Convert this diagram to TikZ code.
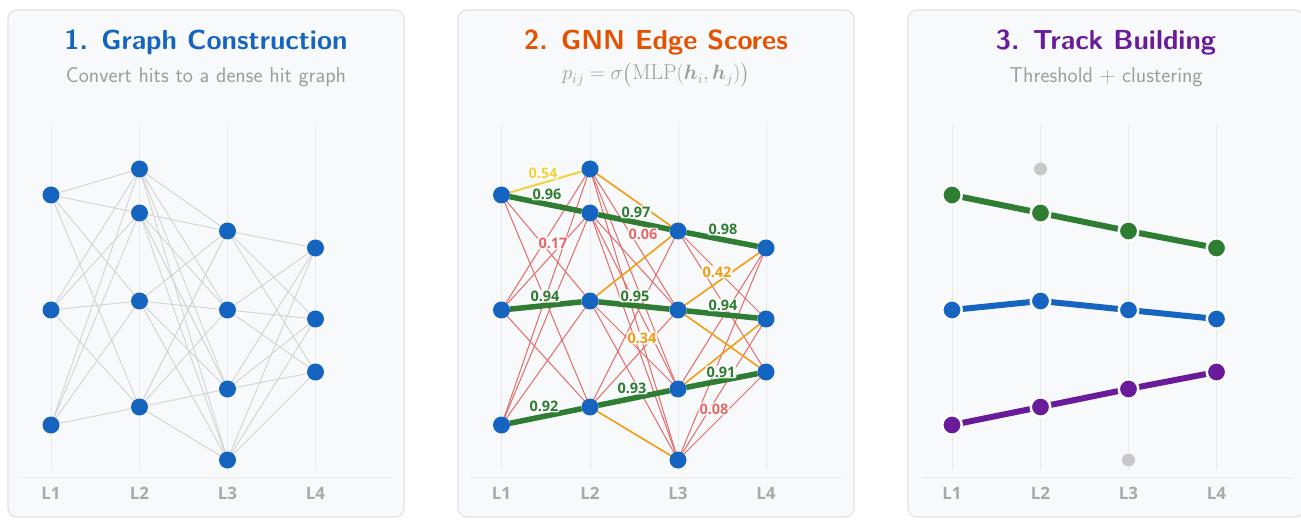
\documentclass[tikz,border=0pt]{standalone}
\usepackage{fontspec}
\usepackage{amsmath}
\newfontfamily\lblfont{Open Sans}
\definecolor{panelfill}{HTML}{F8F9FB}
\definecolor{panelborder}{HTML}{E0E2E6}
\definecolor{gridc}{HTML}{E6E8EC}
\definecolor{hitblue}{HTML}{1565C0}
\definecolor{trackgreen}{HTML}{2E7D32}
\definecolor{trackpurple}{HTML}{6A1B9A}
\definecolor{titleorange}{HTML}{E65100}
\definecolor{subgray}{HTML}{9E9E9E}
\definecolor{laygray}{HTML}{A9A9A9}
\definecolor{edgegray}{HTML}{D3D3D3}
\definecolor{edgered}{HTML}{E46A6A}
\definecolor{edgeorange}{HTML}{F39C12}
\definecolor{edgeyellow}{HTML}{F4D03F}
\definecolor{noisegray}{HTML}{C8C8C8}
\pgfdeclarelayer{bg}
\pgfdeclarelayer{edges}
\pgfsetlayers{bg,edges,main}
\tikzset{
  panel/.style={draw=panelborder, line width=1.2pt, fill=panelfill, rounded corners=9pt},
  grid/.style={draw=gridc, line width=0.8pt},
  hit/.style={circle, fill=hitblue, minimum size=17pt, inner sep=0pt, outer sep=0pt},
  hitw/.style={circle, draw=white, line width=2.5pt, minimum size=19.5pt, inner sep=0pt, outer sep=0pt},
  noise/.style={circle, fill=noisegray, minimum size=13pt, inner sep=0pt},
  gedge/.style={draw=edgegray, line width=0.9pt},
  redge/.style={draw=edgered, line width=1pt},
  oedge/.style={draw=edgeorange, line width=1.6pt},
  yedge/.style={draw=edgeyellow, line width=2pt},
  tedge/.style={draw=trackgreen, line width=5.5pt},
  track/.style={line width=6pt},
  title/.style={font=\sffamily\bfseries\fontsize{27.5}{32}\selectfont, inner sep=0pt, anchor=base},
  subtitle/.style={font=\sffamily\fontsize{21.5}{25}\selectfont, text=subgray, inner sep=0pt, anchor=base},
  laylbl/.style={font=\lblfont\bfseries\fontsize{17}{20}\selectfont, text=laygray},
  lbl/.style={font=\lblfont\bfseries\fontsize{14.5}{16}\selectfont, fill=white, fill opacity=0.85, text opacity=1, inner sep=1pt, rounded corners=2pt},
}
\begin{document}
\begin{tikzpicture}[x=1pt,y=-1pt]
\useasboundingbox (0,0) rectangle (1301,529);

% panels, grid, axis, layer labels
\foreach \P/\o/\n in {1/0/0, 2/450/450.5, 3/900/901}{
  \begin{pgfonlayer}{bg}
    \path[panel] (8+\o,10) rectangle (404+\o,517);
    \foreach \x in {51,139.5,227.5,315.5}{
      \draw[grid] (\x+\n,125) -- (\x+\n,470);
    }
    \draw[grid] (20+\n,477) -- (390+\n,477);
  \end{pgfonlayer}
  \node[laylbl] (p\P L1) at (51+\n,493) {L1};
  \node[laylbl] (p\P L2) at (139.5+\n,493) {L2};
  \node[laylbl] (p\P L3) at (227.5+\n,493) {L3};
  \node[laylbl] (p\P L4) at (315.5+\n,493) {L4};
}

% titles
\node[title, text=hitblue] (t1) at (206,49.5) {1. Graph Construction};
\node[subtitle] (s1) at (206,83) {Convert hits to a dense hit graph};
\node[title, text=titleorange] (t2) at (656,49.5) {2. GNN Edge Scores};
\node[subtitle] (s2) at (656,80) {$p_{ij} = \sigma\bigl(\mathrm{MLP}(\boldsymbol{h}_i, \boldsymbol{h}_j)\bigr)$};
\node[title, text=trackpurple] (t3) at (1106,49.5) {3. Track Building};
\node[subtitle] (s3) at (1106,83) {Threshold + clustering};

% hits in panels 1 and 2
\foreach \P/\n in {1/0, 2/450.5}{
  \node[hit] (p\P a1) at (51+\n,195) {};
  \node[hit] (p\P a2) at (51+\n,310) {};
  \node[hit] (p\P a3) at (51+\n,425) {};
  \node[hit] (p\P b0) at (139.5+\n,169) {};
  \node[hit] (p\P b1) at (139.5+\n,213) {};
  \node[hit] (p\P b2) at (139.5+\n,301) {};
  \node[hit] (p\P b3) at (139.5+\n,407) {};
  \node[hit] (p\P c1) at (227.5+\n,231) {};
  \node[hit] (p\P c2) at (227.5+\n,310) {};
  \node[hit] (p\P c3) at (227.5+\n,389) {};
  \node[hit] (p\P c4) at (227.5+\n,460) {};
  \node[hit] (p\P d1) at (315.5+\n,248) {};
  \node[hit] (p\P d2) at (315.5+\n,319) {};
  \node[hit] (p\P d3) at (315.5+\n,372) {};
}

% panel 1 edges
\begin{pgfonlayer}{edges}
  \foreach \u in {a1,a2,a3}{\foreach \v in {b0,b1,b2,b3}{\draw[gedge] (p1\u) -- (p1\v);}}
  \foreach \u in {b0,b1,b2,b3}{\foreach \v in {c1,c2,c3,c4}{\draw[gedge] (p1\u) -- (p1\v);}}
  \foreach \u in {c1,c2,c3,c4}{\foreach \v in {d1,d2,d3}{\draw[gedge] (p1\u) -- (p1\v);}}
\end{pgfonlayer}

% panel 2 edges
\begin{pgfonlayer}{edges}
  \foreach \u/\v in {a1/b2,a1/b3,a2/b0,a2/b1,a2/b3,a3/b0,a3/b1,a3/b2,
    b0/c2,b0/c3,b0/c4,b1/c2,b1/c3,b1/c4,b2/c3,b2/c4,b3/c1,b3/c2,
    c1/d2,c1/d3,c3/d1,c4/d1,c4/d2,c4/d3}{\draw[redge] (p2\u) -- (p2\v);}
  \foreach \u/\v in {b0/c1,b2/c1,b3/c4,c2/d1,c2/d3,c3/d2}{\draw[oedge] (p2\u) -- (p2\v);}
  \draw[yedge] (p2a1) -- (p2b0);
  \foreach \u/\v in {a1/b1,b1/c1,c1/d1,a2/b2,b2/c2,c2/d2,a3/b3,b3/c3,c3/d3}{\draw[tedge] (p2\u) -- (p2\v);}
\end{pgfonlayer}

% panel 2 score labels
\node[lbl, text=edgeyellow] (l054) at (543,173) {0.54};
\node[lbl, text=trackgreen] (l096) at (547,194) {0.96};
\node[lbl, text=edgered] (l017) at (553,243) {0.17};
\node[lbl, text=trackgreen] (l094a) at (545,296) {0.94};
\node[lbl, text=trackgreen] (l092) at (544,406) {0.92};
\node[lbl, text=trackgreen] (l097) at (636,212) {0.97};
\node[lbl, text=edgered] (l006) at (643,234) {0.06};
\node[lbl, text=trackgreen] (l095) at (635,296) {0.95};
\node[lbl, text=edgeorange] (l034) at (642,338) {0.34};
\node[lbl, text=trackgreen] (l093) at (632,388) {0.93};
\node[lbl, text=trackgreen] (l098) at (723,229) {0.98};
\node[lbl, text=edgeorange] (l042) at (717,272) {0.42};
\node[lbl, text=trackgreen] (l094b) at (723,305) {0.94};
\node[lbl, text=trackgreen] (l091) at (721,372) {0.91};
\node[lbl, text=edgered] (l008) at (714,409) {0.08};

% panel 3 tracks
\node[noise] (n1) at (1040.5,169) {};
\node[noise] (n2) at (1128.5,460) {};
\foreach \k/\c/\ya/\yb/\yc/\yd in {g/trackgreen/195/213/231/248, b/hitblue/310/301/310/319, p/trackpurple/425/407/389/372}{
  \node[hitw, fill=\c] (\k1) at (952,\ya) {};
  \node[hitw, fill=\c] (\k2) at (1040.5,\yb) {};
  \node[hitw, fill=\c] (\k3) at (1128.5,\yc) {};
  \node[hitw, fill=\c] (\k4) at (1216.5,\yd) {};
  \begin{pgfonlayer}{edges}
    \draw[track, draw=\c] (\k1) -- (\k2) -- (\k3) -- (\k4);
  \end{pgfonlayer}
}
\end{tikzpicture}
\end{document}
